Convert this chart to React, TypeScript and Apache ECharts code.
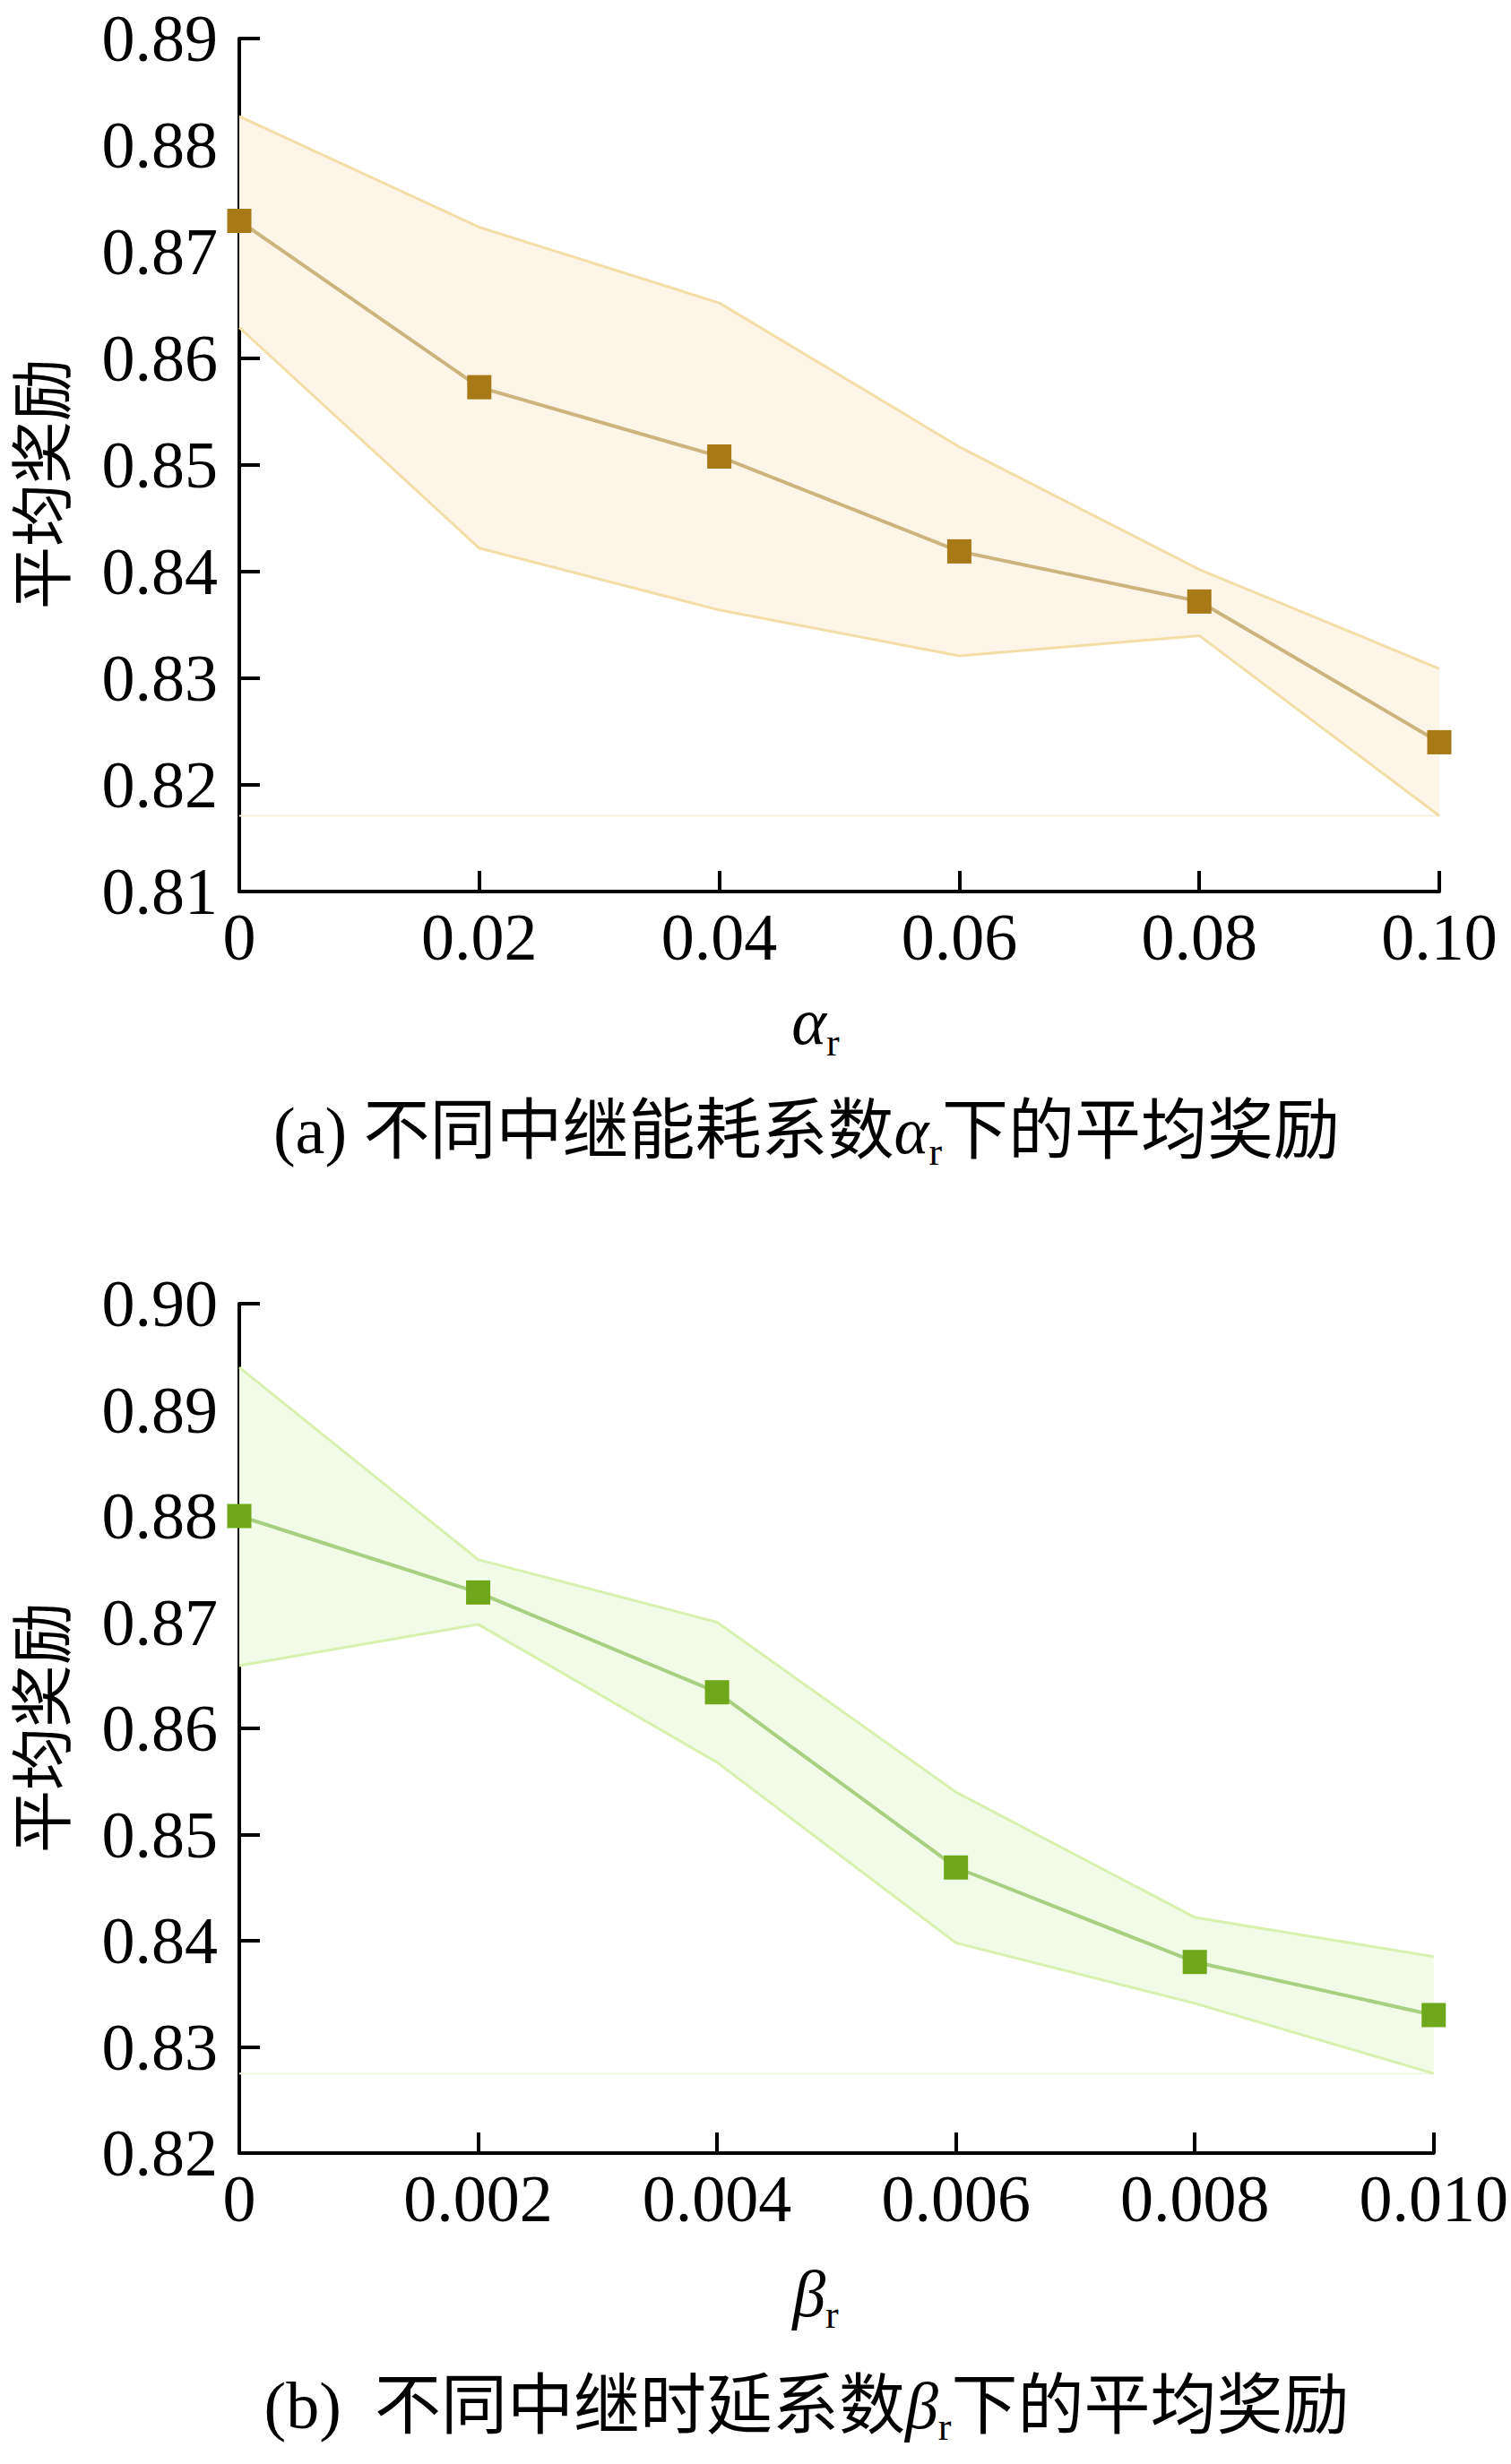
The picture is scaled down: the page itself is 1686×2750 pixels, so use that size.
import React, { useEffect, useRef } from "react";
import * as echarts from "echarts";

const alphaX = [0, 0.02, 0.04, 0.06, 0.08, 0.1];
const alphaMean = [0.8729, 0.8573, 0.8508, 0.8419, 0.8372, 0.824];
const alphaUpper = [0.8827, 0.8723, 0.8652, 0.8517, 0.8402, 0.8309];
const alphaLower = [0.8629, 0.8422, 0.8364, 0.8321, 0.834, 0.8171];

const betaX = [0, 0.002, 0.004, 0.006, 0.008, 0.01];
const betaMean = [0.88, 0.8728, 0.8634, 0.8469, 0.838, 0.833];
const betaUpper = [0.894, 0.8759, 0.87, 0.854, 0.8422, 0.8385];
const betaLower = [0.8659, 0.8698, 0.8568, 0.8398, 0.8341, 0.8275];

const yTicksA = { min: 0.81, max: 0.89, interval: 0.01 };
const yTicksB = { min: 0.82, max: 0.9, interval: 0.01 };

const SERIF = '"Liberation Serif", "Times New Roman", serif';
const MIXED = '"Liberation Serif", "Noto Sans CJK SC", serif';
const CJK = '"Noto Sans CJK SC", sans-serif';

const themeA = {
  marker: "#A77A17",
  line: "#CDB47C",
  edge: "#F3DEA8",
  fill: "#FDF5E8",
  base: "#FBF1E0",
};
const themeB = {
  marker: "#6EA81A",
  line: "#A9CF80",
  edge: "#D8F1AE",
  fill: "#F2FBE7",
  base: "#EEF8E0",
};

function pairs(xs: number[], ys: number[]) {
  return xs.map((x, i) => [x, ys[i]]);
}

function bandSeries(idx: number, xs: number[], up: number[], lo: number[], th: any) {
  const minLo = Math.min(...lo);
  return {
    type: "custom",
    xAxisIndex: idx,
    yAxisIndex: idx,
    clip: false,
    z: 1,
    silent: true,
    data: [[xs[0], up[0]]],
    renderItem: (params: any, api: any) => {
      const top = xs.map((x, i) => api.coord([x, up[i]]));
      const bot = xs.map((x, i) => api.coord([x, lo[i]])).reverse();
      const b0 = api.coord([xs[0], minLo]);
      const b1 = api.coord([xs[xs.length - 1], minLo]);
      return {
        type: "group",
        children: [
          { type: "polygon", shape: { points: top.concat(bot) }, style: { fill: th.fill } },
          {
            type: "line",
            shape: { x1: b0[0], y1: b0[1], x2: b1[0], y2: b1[1] },
            style: { stroke: th.base, lineWidth: 2 },
          },
        ],
      };
    },
  };
}

function edgeSeries(idx: number, xs: number[], ys: number[], th: any) {
  return {
    type: "line",
    xAxisIndex: idx,
    yAxisIndex: idx,
    data: pairs(xs, ys),
    symbol: "none",
    clip: false,
    z: 2,
    lineStyle: { color: th.edge, width: 3 },
    silent: true,
  };
}

function meanSeries(idx: number, xs: number[], ys: number[], th: any) {
  return {
    type: "line",
    xAxisIndex: idx,
    yAxisIndex: idx,
    data: pairs(xs, ys),
    symbol: "rect",
    symbolSize: 27,
    clip: false,
    z: 4,
    itemStyle: { color: th.marker },
    lineStyle: { color: th.line, width: 4 },
    silent: true,
  };
}

function xAxisCfg(idx: number, max: number, interval: number, digits: number) {
  return {
    type: "value",
    gridIndex: idx,
    min: 0,
    max,
    interval,
    axisLine: { show: true, onZero: false, lineStyle: { color: "#000", width: 4 } },
    axisTick: { show: true, inside: true, length: 23, lineStyle: { color: "#000", width: 4 } },
    splitLine: { show: false },
    axisLabel: {
      margin: 14,
      color: "#000",
      fontFamily: SERIF,
      fontSize: 74,
      formatter: (v: number) => (Math.abs(v) < 1e-12 ? "0" : v.toFixed(digits)),
    },
  };
}

function yAxisCfg(idx: number, t: { min: number; max: number; interval: number }) {
  return {
    type: "value",
    gridIndex: idx,
    min: t.min,
    max: t.max,
    interval: t.interval,
    axisLine: { show: true, onZero: false, lineStyle: { color: "#000", width: 4 } },
    axisTick: { show: true, inside: true, length: 23, lineStyle: { color: "#000", width: 4 } },
    splitLine: { show: false },
    axisLabel: {
      margin: 24,
      color: "#000",
      fontFamily: SERIF,
      fontSize: 74,
      formatter: (v: number) => v.toFixed(2),
    },
  };
}

const richSub = {
  a: { fontFamily: SERIF, fontStyle: "italic", fontSize: 74, lineHeight: 90, fill: "#000", color: "#000" },
  s: { fontFamily: SERIF, fontSize: 44, lineHeight: 44, verticalAlign: "bottom", fill: "#000", color: "#000" },
};

export default function App() {
  const ref = useRef<HTMLDivElement>(null);
  useEffect(() => {
    document.body.style.margin = "0";
    if (!ref.current) return;
    const chart = echarts.init(ref.current, null, { renderer: "svg" });
    chart.setOption({
      animation: false,
      backgroundColor: "#fff",
      grid: [
        { left: 267, right: 80, top: 43, height: 952 },
        { left: 267, right: 80, top: 1455, height: 948 },
      ],
      xAxis: [xAxisCfg(0, 0.1, 0.02, 2), xAxisCfg(1, 0.01, 0.002, 3)],
      yAxis: [yAxisCfg(0, yTicksA), yAxisCfg(1, yTicksB)],
      series: [
        bandSeries(0, alphaX, alphaUpper, alphaLower, themeA),
        edgeSeries(0, alphaX, alphaUpper, themeA),
        edgeSeries(0, alphaX, alphaLower, themeA),
        meanSeries(0, alphaX, alphaMean, themeA),
        bandSeries(1, betaX, betaUpper, betaLower, themeB),
        edgeSeries(1, betaX, betaUpper, themeB),
        edgeSeries(1, betaX, betaLower, themeB),
        meanSeries(1, betaX, betaMean, themeB),
      ],
      graphic: [
        {
          type: "text",
          x: 42,
          y: 540,
          rotation: Math.PI / 2,
          style: { text: "平均奖励", fontFamily: CJK, fontSize: 70, lineHeight: 70, fill: "#000", align: "center", verticalAlign: "middle" },
        },
        {
          type: "text",
          x: 42,
          y: 1928,
          rotation: Math.PI / 2,
          style: { text: "平均奖励", fontFamily: CJK, fontSize: 70, lineHeight: 70, fill: "#000", align: "center", verticalAlign: "middle" },
        },
        {
          type: "text",
          x: 910,
          y: 1140,
          style: { text: "{a|α}{s|r}", rich: richSub, align: "center", verticalAlign: "middle" },
        },
        {
          type: "text",
          x: 910,
          y: 2560,
          style: { text: "{a|β}{s|r}", rich: richSub, align: "center", verticalAlign: "middle" },
        },
        {
          type: "text",
          x: 900,
          y: 1262,
          style: {
            text: "(a) 不同中继能耗系数{a|α}{s|r}下的平均奖励",
            fontFamily: MIXED,
            fontSize: 74,
            lineHeight: 90,
            fill: "#000",
            rich: richSub,
            align: "center",
            verticalAlign: "middle",
          },
        },
        {
          type: "text",
          x: 900,
          y: 2685,
          style: {
            text: "(b)  不同中继时延系数{a|β}{s|r}下的平均奖励",
            fontFamily: MIXED,
            fontSize: 74,
            lineHeight: 90,
            fill: "#000",
            rich: richSub,
            align: "center",
            verticalAlign: "middle",
          },
        },
      ],
    });
    return () => chart.dispose();
  }, []);
  return <div ref={ref} style={{ width: 1686, height: 2750 }} />;
}
